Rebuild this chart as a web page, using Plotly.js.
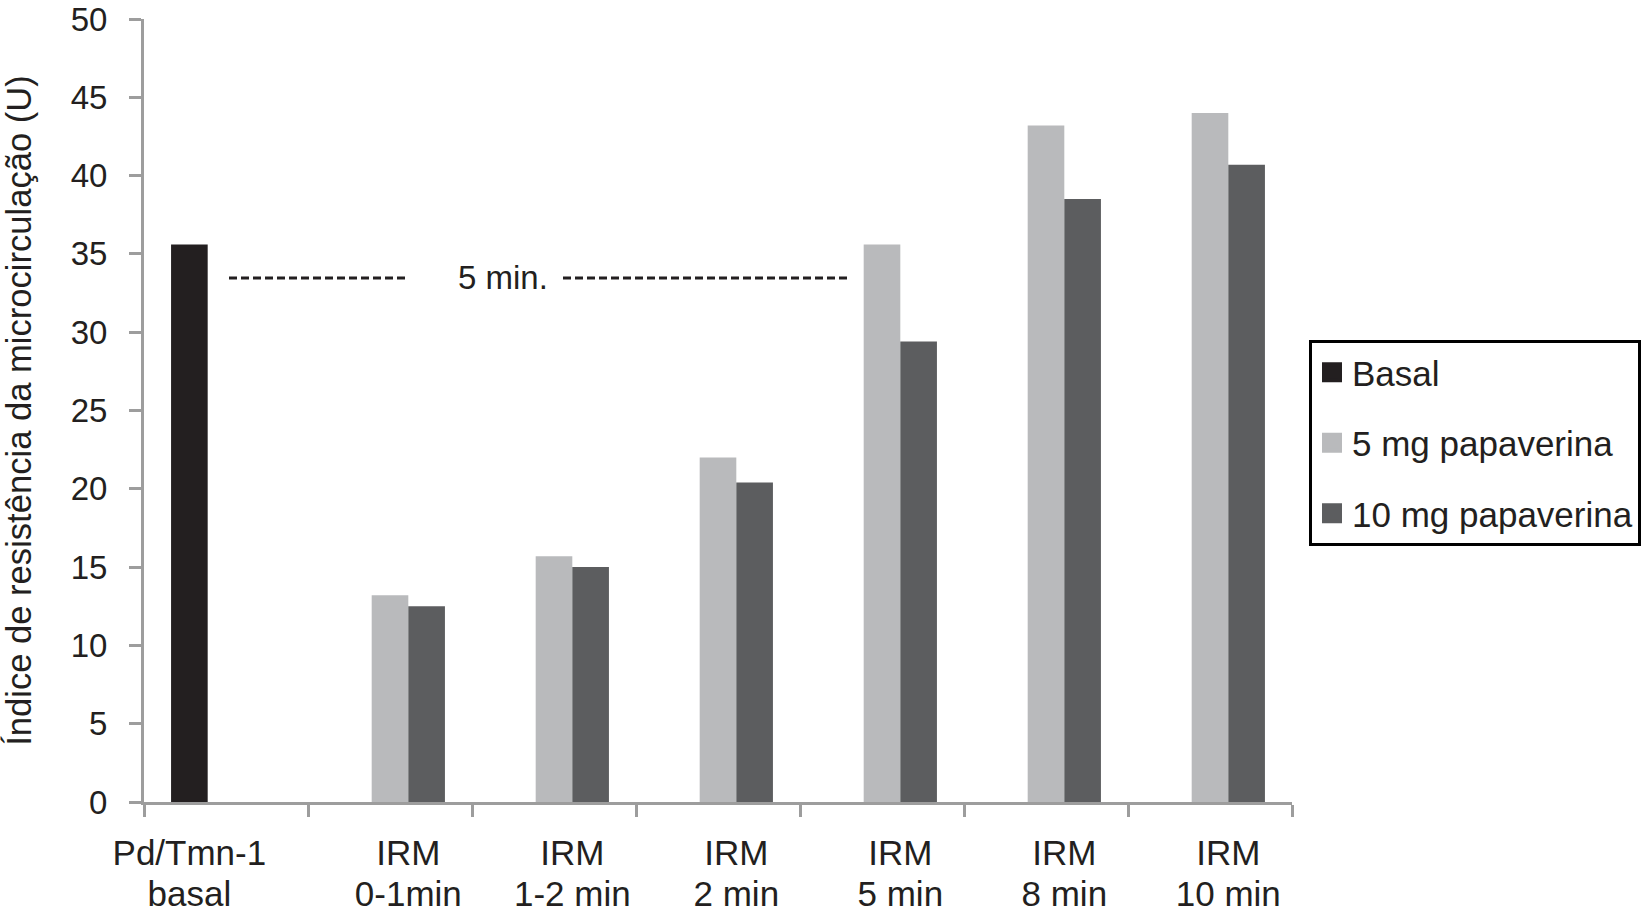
<!DOCTYPE html>
<html>
<head>
<meta charset="utf-8">
<script src="https://cdn.plot.ly/plotly-3.0.1.min.js"></script>
<style>html,body{margin:0;padding:0;background:#fff;}#chart{width:1649px;height:914px;}</style>
</head>
<body>
<div id="chart"></div>
<script>
const categories = ["Pd/Tmn-1<br>basal", "IRM<br>0-1min", "IRM<br>1-2 min", "IRM<br>2 min", "IRM<br>5 min", "IRM<br>8 min", "IRM<br>10 min"];
const basal = [35.6, null, null, null, null, null, null];
const papaverina5 = [null, 13.2, 15.7, 22.0, 35.6, 43.2, 44.0];
const papaverina10 = [null, 12.5, 15.0, 20.4, 29.4, 38.5, 40.7];
const seriesNames = ["Basal", "5 mg papaverina", "10 mg papaverina"];
const seriesColors = ["#231f20", "#b9babc", "#5c5d5f"];
const yTitle = "Índice de resistência da microcirculação (U)";
const intervalLabel = "5 min.";

const FONT = "Arial, 'Liberation Sans', Helvetica, sans-serif";
const INK = "#231f20";
const AXIS = "#9d9d9d";

const L = 144, R = 357, T = 19, B = 112;
const W = 1649, H = 914;
const pw = W - L - R, ph = H - T - B;
const px = v => (v - L) / pw;
const py = v => (H - B - v) / ph;

const BARGAP = 0.33;
const barUnit = (1 - BARGAP) / 3;
// labels are centred under the bars that are actually present in each group
const labelPos = categories.map((c, i) => i === 0 ? i - barUnit : i + barUnit / 2);
const line1 = categories.map(c => c.split("<br>")[0]);
const line2 = categories.map(c => c.split("<br>")[1]);

const barTraces = [basal, papaverina5, papaverina10].map((vals, k) => ({
  type: "bar", name: seriesNames[k], x: categories, y: vals,
  marker: {color: seriesColors[k]}, showlegend: false
}));
const legendTraces = seriesNames.map((n, k) => ({
  type: "scatter", mode: "markers", name: n, x: [null], y: [null],
  marker: {symbol: "square", size: 16, color: seriesColors[k], line: {color: seriesColors[k], width: 4}},
  legendgroup: "g" + k, showlegend: true, hoverinfo: "skip"
}));
// carriers for the two tick-label rows
const labelCarriers = ["x2", "x3"].map(ax => ({
  type: "scatter", mode: "markers", xaxis: ax, yaxis: "y",
  x: labelPos, y: labelPos.map(() => null), showlegend: false, hoverinfo: "skip"
}));

const labelAxis = (vals, text, standoff) => ({
  type: "linear", overlaying: "x", anchor: "y", side: "bottom",
  range: [-0.5, categories.length - 0.5],
  tickmode: "array", tickvals: vals, ticktext: text,
  ticks: "", showline: false, showgrid: false, zeroline: false,
  tickfont: {family: FONT, size: 35, color: INK},
  ticklabelstandoff: standoff, fixedrange: true
});

const layout = {
  width: W, height: H,
  margin: {l: L, r: R, t: T, b: B, autoexpand: false},
  paper_bgcolor: "#ffffff", plot_bgcolor: "#ffffff",
  font: {family: FONT, color: INK, size: 33},
  barmode: "group", bargap: BARGAP, bargroupgap: 0,
  showlegend: true,
  legend: {
    x: px(1309), y: py(340), xanchor: "left", yanchor: "top",
    bordercolor: "#000000", borderwidth: 3, bgcolor: "#ffffff",
    font: {family: FONT, size: 35, color: INK},
    traceorder: "grouped", tracegroupgap: 22
  },
  xaxis: {
    type: "category", tickson: "boundaries",
    showline: true, linecolor: AXIS, linewidth: 3,
    ticks: "outside", ticklen: 12, tickwidth: 3, tickcolor: AXIS,
    showgrid: false, zeroline: false, showticklabels: false
  },
  xaxis2: labelAxis(labelPos, line1, 27),
  xaxis3: labelAxis(labelPos, line2, 68),
  yaxis: {
    range: [0, 50], dtick: 5, tick0: 0,
    showline: true, linecolor: AXIS, linewidth: 3,
    ticks: "outside", ticklen: 12, tickwidth: 3, tickcolor: AXIS,
    showgrid: false, zeroline: false,
    tickfont: {family: FONT, size: 33, color: INK},
    ticklabelstandoff: 15,
    title: {text: yTitle, font: {family: FONT, size: 34.6, color: INK}, standoff: 33}
  },
  shapes: [
    {type: "line", xref: "paper", yref: "paper", x0: px(229), x1: px(408), y0: py(278), y1: py(278),
     line: {color: INK, width: 3, dash: "8px,4px"}},
    {type: "line", xref: "paper", yref: "paper", x0: px(563), x1: px(848), y0: py(278), y1: py(278),
     line: {color: INK, width: 3, dash: "8px,4px"}}
  ],
  annotations: [
    {xref: "paper", yref: "paper", x: px(503), y: py(277), text: intervalLabel, showarrow: false,
     xanchor: "center", yanchor: "middle", font: {family: FONT, size: 33, color: INK}}
  ]
};

Plotly.newPlot("chart", barTraces.concat(legendTraces, labelCarriers), layout, {displayModeBar: false, staticPlot: true});
</script>
</body>
</html>
